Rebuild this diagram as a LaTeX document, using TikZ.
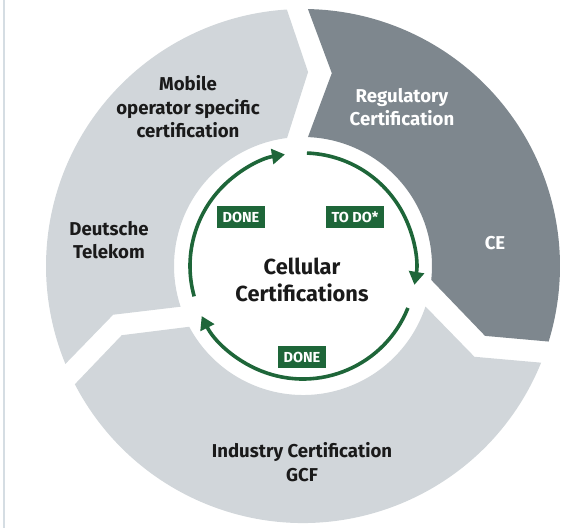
\documentclass[tikz,border=0pt]{standalone}
\usepackage{fontspec}
\setmainfont{Fira Sans}
\usepackage{tikz}
\usetikzlibrary{arrows.meta, positioning, calc}
\definecolor{seggray}{HTML}{D1D6DA}
\definecolor{segslate}{HTML}{7E878E}
\definecolor{loopgreen}{HTML}{1E6639}
\definecolor{ink}{HTML}{1A1A1A}
\definecolor{edgeline}{HTML}{D5DDE3}
\tikzset{
  seglight/.style={fill=seggray, draw=none},
  segdark/.style={fill=segslate, draw=none},
  seglab/.style={align=center, font=\bfseries\fontsize{18.6}{23.5}\selectfont, text=ink, inner sep=0pt},
  seglabw/.style={seglab, text=white},
  hub/.style={align=center, font=\bfseries\fontsize{21.8}{27}\selectfont, text=ink, inner sep=0pt},
  badge/.style={rectangle, fill=loopgreen, text=white, font=\bfseries\fontsize{14.5}{16}\selectfont, minimum height=22pt, inner xsep=6pt, inner ysep=0pt},
  cyclearc/.style={draw=loopgreen, line width=3.6pt, -{Triangle[length=13pt,width=15pt]}},
}

\begin{document}
\begin{tikzpicture}[x=1pt, y=1pt]
  \useasboundingbox (0,0) rectangle (563,528);
  \draw[edgeline, line width=1.4pt] (4,0) -- (4,528);

  % ring segments, centre of the wheel
  \begin{scope}[shift={(303,262)}]
    \fill[seglight] (202.4:257pt) arc[start angle=202.4, end angle=93.6, radius=257pt]
      -- (88.5:194pt) -- (97.1:129pt) arc[start angle=97.1, end angle=198.4, radius=129pt]
      -- (194.4:196pt) -- cycle;
    \fill[segdark] (88.9:257pt) arc[start angle=88.9, end angle=-17.1, radius=257pt]
      -- (-21:195pt) -- (-6.2:129pt) arc[start angle=-6.2, end angle=87.8, radius=129pt]
      -- (81.5:195pt) -- cycle;
    \fill[seglight] (-22.1:257pt) arc[start angle=-22.1, end angle=-152.6, radius=257pt]
      -- (-159.1:194pt) -- (-151.9:129pt) arc[start angle=-151.9, end angle=-18.3, radius=129pt]
      -- (-27.9:194pt) -- cycle;

    % cycle arrows
    \draw[cyclearc] (195.6:113pt) arc[start angle=195.6, end angle=99.2, radius=113pt];
    \draw[cyclearc] (88:113pt) arc[start angle=88, end angle=-9.6, radius=113pt];
    \draw[cyclearc] (-21.8:113pt) arc[start angle=-21.8, end angle=-153.7, radius=113pt];
  \end{scope}

  \node[seglab] (mobile) at (188,421) {Mobile\\operator specific\\certification};
  \node[seglab] (telekom) at (109,288) {Deutsche\\Telekom};
  \node[seglabw] (regulatory) at (402,421) {Regulatory\\Certification};
  \node[seglabw] (ce) at (495,285) {CE};
  \node[seglab] (industry) at (302,66) {Industry Certification\\GCF};
  \node[hub] (cellular) at (302,248) {Cellular\\Certifications};

  \node[badge] (done1) at (241,311) {DONE};
  \node[badge] (todo) at (355,311) {TO DO*};
  \node[badge] (done2) at (302,171) {DONE};
\end{tikzpicture}
\end{document}
